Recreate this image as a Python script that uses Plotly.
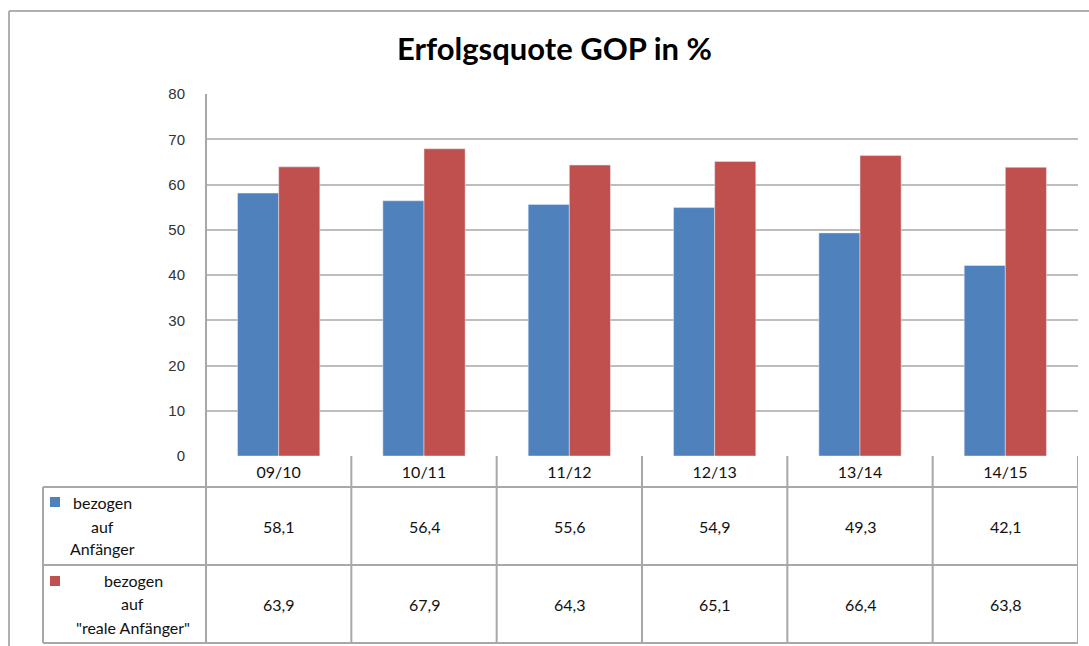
import plotly.graph_objects as go

# Semesters and success rates (%)
categories = ["09/10", "10/11", "11/12", "12/13", "13/14", "14/15"]
anfaenger = [58.1, 56.4, 55.6, 54.9, 49.3, 42.1]
reale_anfaenger = [63.9, 67.9, 64.3, 65.1, 66.4, 63.8]
value_labels_1 = ["58,1", "56,4", "55,6", "54,9", "49,3", "42,1"]
value_labels_2 = ["63,9", "67,9", "64,3", "65,1", "66,4", "63,8"]
y_ticks = [0, 10, 20, 30, 40, 50, 60, 70, 80]

W, H = 1089, 646
BLUE = "#4F81BD"
RED = "#C0504D"
GRID = "#BDBDBD"
TABLE_LINE = "#A8A8A8"
TEXT_FONT = "Lato, Carlito, Open Sans, sans-serif"


def px(x):
    return x / W


def py(y):
    return 1 - y / H


# plot area in pixels
PL, PR, PT, PB = 206, 1078, 94, 456
# table rows (pixel y)
ROW_HEAD_BOTTOM, ROW1_BOTTOM, ROW2_BOTTOM = 487, 565, 643
TABLE_LEFT = 43

fig = go.Figure()
fig.add_trace(go.Bar(x=categories, y=anfaenger, marker_color=BLUE,
                     name="bezogen auf Anfänger"))
fig.add_trace(go.Bar(x=categories, y=reale_anfaenger, marker_color=RED,
                     name='bezogen auf "reale Anfänger"'))

shapes = []
line = dict(color=TABLE_LINE, width=2)

# outer chart frame (top and left edges visible)
shapes.append(dict(type="line", xref="paper", yref="paper",
                   x0=px(9), x1=1, y0=py(11), y1=py(11),
                   line=dict(color="#B0B0B0", width=2)))
shapes.append(dict(type="line", xref="paper", yref="paper",
                   x0=px(9), x1=px(9), y0=py(11), y1=0,
                   line=dict(color="#B0B0B0", width=2)))

# left edge of plot area, continuing through the data table
shapes.append(dict(type="line", xref="paper", yref="paper",
                   x0=px(PL), x1=px(PL), y0=py(PT), y1=py(ROW2_BOTTOM), line=line))

# horizontal table rules
for yy in (ROW_HEAD_BOTTOM, ROW1_BOTTOM, ROW2_BOTTOM):
    shapes.append(dict(type="line", xref="paper", yref="paper",
                       x0=px(TABLE_LEFT), x1=px(PR), y0=py(yy), y1=py(yy), line=line))
# left edge of the legend column
shapes.append(dict(type="line", xref="paper", yref="paper",
                   x0=px(TABLE_LEFT), x1=px(TABLE_LEFT),
                   y0=py(ROW_HEAD_BOTTOM), y1=py(ROW2_BOTTOM), line=line))
# category column separators
for i in range(len(categories)):
    shapes.append(dict(type="line", xref="x", yref="paper",
                       x0=i + 0.5, x1=i + 0.5, y0=py(PB), y1=py(ROW2_BOTTOM), line=line))

# legend keys
shapes.append(dict(type="rect", xref="paper", yref="paper",
                   x0=px(50), x1=px(60), y0=py(497), y1=py(507),
                   fillcolor=BLUE, line=dict(width=0)))
shapes.append(dict(type="rect", xref="paper", yref="paper",
                   x0=px(50), x1=px(60), y0=py(576), y1=py(586),
                   fillcolor=RED, line=dict(width=0)))

annotations = []
tfont = dict(family=TEXT_FONT, size=16, color="#111111")

# row values
for i, (a, b) in enumerate(zip(value_labels_1, value_labels_2)):
    annotations.append(dict(x=i, y=py(526), xref="x", yref="paper", text=a,
                            showarrow=False, font=tfont, xanchor="center", yanchor="middle"))
    annotations.append(dict(x=i, y=py(604), xref="x", yref="paper", text=b,
                            showarrow=False, font=tfont, xanchor="center", yanchor="middle"))

# legend text lines
legend_lines = [
    ("bezogen", 102, 502), ("auf", 103, 526), ("Anfänger", 102, 548),
    ("bezogen", 133, 580), ("auf", 132, 603), ("\"reale Anfänger\"", 133, 627),
]
for txt, cx, cy in legend_lines:
    annotations.append(dict(x=px(cx), y=py(cy), xref="paper", yref="paper", text=txt,
                            showarrow=False, font=tfont, xanchor="center", yanchor="middle"))

# title
annotations.append(dict(x=px(554), y=py(48), xref="paper", yref="paper",
                        text="<b>Erfolgsquote GOP in %</b>", showarrow=False,
                        font=dict(family=TEXT_FONT, size=31, color="#000000"),
                        xanchor="center", yanchor="middle"))

fig.update_layout(
    width=W, height=H,
    margin=dict(l=0, r=0, t=0, b=0, autoexpand=False),
    paper_bgcolor="white", plot_bgcolor="white",
    showlegend=False,
    barmode="group", bargap=0.434, bargroupgap=0,
    shapes=shapes, annotations=annotations,
    xaxis=dict(domain=[px(PL), px(PR)], range=[-0.5, 5.5], type="category",
               automargin=False,
               showgrid=False, zeroline=False, showline=False,
               ticks="", ticklabelstandoff=5,
               tickfont=dict(family=TEXT_FONT, size=16, color="#111111")),
    yaxis=dict(domain=[py(PB), py(PT)], range=[0, 80], tickvals=y_ticks,
               automargin=False,
               showgrid=True, gridcolor=GRID, gridwidth=2,
               zeroline=False, showline=False, ticks="",
               ticklabelstandoff=20,
               tickfont=dict(family="Liberation Sans, Arial, sans-serif", size=15,
                             color="#333333")),
)

fig.write_html("out.html")
